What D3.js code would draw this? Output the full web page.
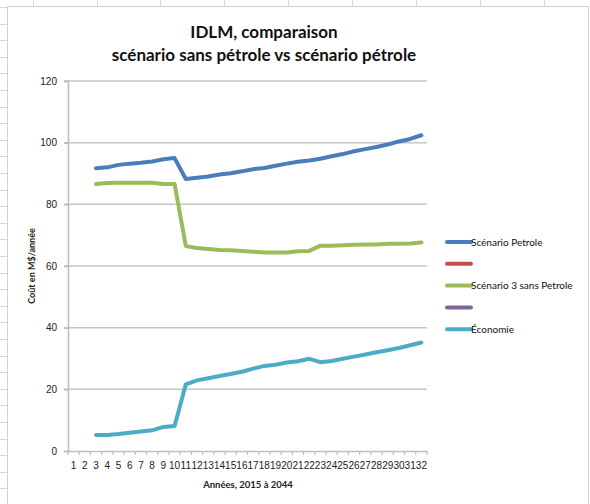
<!DOCTYPE html>
<html>
<head>
<meta charset="utf-8">
<script src="https://cdn.jsdelivr.net/npm/d3@7"></script>
<style>
  body { margin: 0; background: #fff; }
  svg { display: block; font-family: Lato, "Open Sans", sans-serif; }
</style>
</head>
<body>
<div id="chart"></div>
<script>
// data, categories 1..32, series start at category 3
const categories = d3.range(1, 33);
const seriesStart = 3;
const petrole = [91.7, 92.0, 92.8, 93.2, 93.5, 93.9, 94.6, 95.0, 88.2, 88.6,
  89.0, 89.7, 90.1, 90.7, 91.4, 91.8, 92.5, 93.2, 93.8, 94.2,
  94.8, 95.6, 96.3, 97.2, 97.9, 98.6, 99.4, 100.4, 101.2, 102.4];
const sansPetrole = [86.6, 86.9, 87.0, 87.0, 87.0, 87.0, 86.6, 86.6, 66.5, 65.8,
  65.5, 65.2, 65.1, 64.9, 64.6, 64.4, 64.4, 64.4, 64.8, 64.9,
  66.6, 66.6, 66.7, 66.9, 67.0, 67.0, 67.2, 67.2, 67.3, 67.6];
const economie = [5.2, 5.2, 5.5, 5.9, 6.3, 6.7, 7.8, 8.1, 21.6, 22.9,
  23.6, 24.3, 25.0, 25.7, 26.7, 27.6, 28.0, 28.7, 29.1, 29.9,
  28.8, 29.2, 29.9, 30.6, 31.3, 32.0, 32.7, 33.4, 34.3, 35.2];
const yTicks = [0, 20, 40, 60, 80, 100, 120];
const legendNames = ['Scénario Petrole', '', 'Scénario 3 sans Petrole', '', 'Économie'];
const legendColors = ['#4a7ebb', '#c0504d', '#9bbb59', '#8064a2', '#4bacc6'];

const width = 590, height = 504;
const margin = {top: 81, left: 68, right: 163, bottom: 53};

const svg = d3.select('#chart').append('svg')
  .attr('width', width)
  .attr('height', height);

// spreadsheet cells behind the chart
const sheet = svg.append('g').attr('stroke', '#d9d9d9').attr('stroke-width', 1);
[33, 97, 160, 224, 288, 352, 416, 480, 544].forEach(x => {
  sheet.append('line').attr('x1', x + 0.5).attr('x2', x + 0.5).attr('y1', 0).attr('y2', 6);
});
d3.range(7, height, 16.6).forEach(y => {
  sheet.append('line').attr('x1', 0).attr('x2', 7).attr('y1', Math.round(y) + 0.5).attr('y2', Math.round(y) + 0.5);
});

// chart frame
svg.append('rect')
  .attr('x', 7.5).attr('y', 6.5)
  .attr('width', 581).attr('height', 500)
  .attr('fill', '#fff')
  .attr('stroke', '#d0d0d0');

const x = d3.scaleBand()
  .domain(categories)
  .range([margin.left, width - margin.right]);

const y = d3.scaleLinear()
  .domain([0, 120])
  .range([height - margin.bottom, margin.top]);

// gridlines
svg.append('g')
  .selectAll('line')
  .data(yTicks.filter(d => d > 0))
  .join('line')
  .attr('x1', margin.left - 4)
  .attr('x2', x.range()[1])
  .attr('y1', d => y(d))
  .attr('y2', d => y(d))
  .attr('stroke', '#c6c6c6')
  .attr('stroke-width', 1.5);

// y axis
const yAxis = svg.append('g')
  .attr('transform', `translate(${margin.left}, 0)`)
  .call(d3.axisLeft(y).tickValues(yTicks).tickSize(4).tickPadding(7));
yAxis.select('.domain').attr('stroke', '#bdbdbd').attr('stroke-width', 1.5);
yAxis.selectAll('.tick line').attr('stroke', '#bdbdbd').attr('stroke-width', 1.5);
yAxis.selectAll('text').attr('font-size', 10).attr('fill', '#222');

// x axis, ticks between categories
const xAxis = svg.append('g')
  .attr('transform', `translate(0, ${y(0)})`)
  .call(d3.axisBottom(x).tickSize(0).tickPadding(11).tickSizeOuter(0));
xAxis.select('.domain').attr('stroke', '#bdbdbd').attr('stroke-width', 1.5);
xAxis.selectAll('text').attr('font-size', 10).attr('fill', '#222');
xAxis.selectAll('.sep')
  .data(d3.range(0, categories.length + 1))
  .join('line')
  .attr('class', 'sep')
  .attr('x1', i => x.range()[0] + i * x.bandwidth())
  .attr('x2', i => x.range()[0] + i * x.bandwidth())
  .attr('y1', 0).attr('y2', 4)
  .attr('stroke', '#bdbdbd').attr('stroke-width', 1.2);

// lines
const line = d3.line()
  .x((d, i) => x(seriesStart + i) + x.bandwidth() / 2)
  .y(d => y(d));

[[petrole, legendColors[0]], [sansPetrole, legendColors[2]], [economie, legendColors[4]]].forEach(([vals, col]) => {
  svg.append('path')
    .datum(vals)
    .attr('d', line)
    .attr('fill', 'none')
    .attr('stroke', col)
    .attr('stroke-width', 4)
    .attr('stroke-linejoin', 'round')
    .attr('stroke-linecap', 'round');
});

// titles
const title = svg.append('text')
  .attr('x', 264).attr('text-anchor', 'middle')
  .attr('font-weight', 'bold').attr('font-size', 17).attr('fill', '#111');
title.append('tspan').attr('x', 264).attr('y', 38).text('IDLM, comparaison');
title.append('tspan').attr('x', 264).attr('y', 61).text('scénario sans pétrole vs scénario pétrole');

svg.append('text')
  .attr('transform', `translate(35, ${y(60)}) rotate(-90)`)
  .attr('text-anchor', 'middle')
  .attr('font-size', 9).attr('font-weight', 'bold').attr('fill', '#222')
  .text('Coût en M$/année');

svg.append('text')
  .attr('x', 248).attr('y', 488)
  .attr('text-anchor', 'middle')
  .attr('font-size', 9.5).attr('font-weight', 'bold').attr('fill', '#222')
  .text('Années, 2015 à 2044');

// legend
const legend = svg.append('g').attr('transform', 'translate(447, 242)');
legendNames.forEach((name, i) => {
  const g = legend.append('g').attr('transform', `translate(0, ${i * 21.8})`);
  g.append('line')
    .attr('x1', 0).attr('x2', 24)
    .attr('stroke', legendColors[i]).attr('stroke-width', 4)
    .attr('stroke-linecap', 'round');
  g.append('text')
    .attr('x', 24).attr('y', 3.5)
    .attr('font-size', 10).attr('fill', '#111')
    .text(name);
});
</script>
</body>
</html>
